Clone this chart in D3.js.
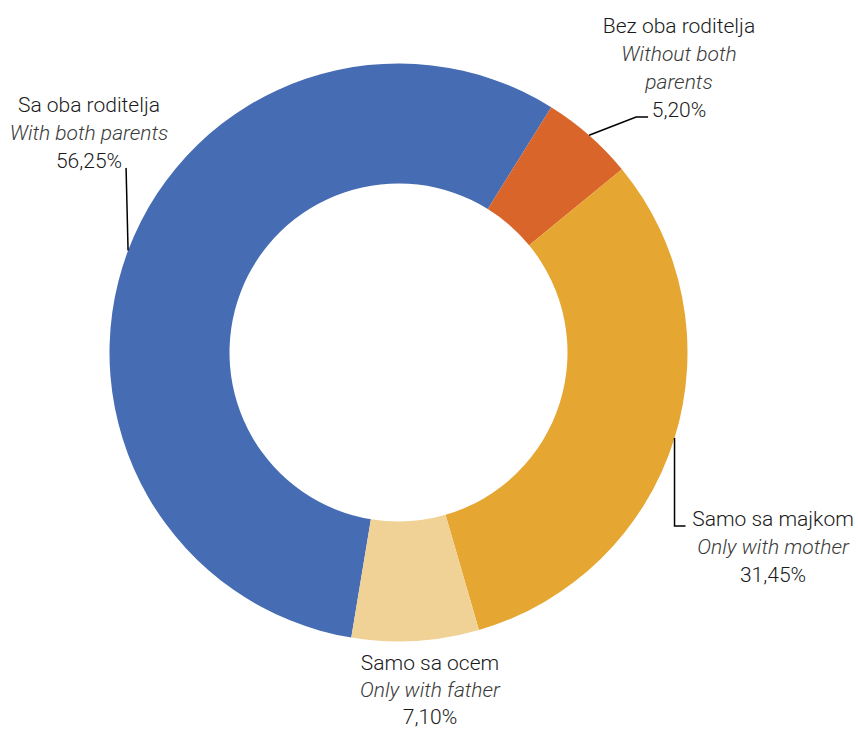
<!DOCTYPE html>
<html>
<head>
<meta charset="utf-8">
<script src="https://cdn.jsdelivr.net/npm/d3@7/dist/d3.min.js"></script>
<style>
  html, body { margin: 0; padding: 0; background: #ffffff; }
  svg { display: block; }
  text { font-family: Roboto, "Noto Sans", sans-serif; font-weight: 300; }
</style>
</head>
<body>
<svg id="chart" width="858" height="731"></svg>
<script>
// ---- Data ----
const categories = ["Sa oba roditelja", "Bez oba roditelja", "Samo sa majkom", "Samo sa ocem"];
const englishLabels = [["With both parents"], ["Without both", "parents"], ["Only with mother"], ["Only with father"]];
const values = [56.25, 5.20, 31.45, 7.10];
const colors = ["#466DB3", "#D9652B", "#E5A632", "#F0D196"];

// ---- Layout ----
const W = 858, H = 731;
const cx = 398.5, cy = 352.5;
const outerR = 289, innerR = 169;
const startDeg = -170.6;

// label anchor (center x, first baseline y, line height) and leader path shapes
const labelLayout = [
  { x: 89,  y: 112, lh: 28, leader: "sa" },
  { x: 679, y: 33,  lh: 28, leader: "bez" },
  { x: 773, y: 526, lh: 28, leader: "majkom" },
  { x: 430, y: 670, lh: 27, leader: null }
];

const svg = d3.select("#chart");
const g = svg.append("g").attr("transform", `translate(${cx},${cy})`);

const start = startDeg * Math.PI / 180;
const pie = d3.pie().sort(null).value(d => d).startAngle(start).endAngle(start + 2 * Math.PI);
const arcs = pie(values);

const arc = d3.arc().innerRadius(innerR).outerRadius(outerR);

g.selectAll("path.slice")
  .data(arcs)
  .join("path")
  .attr("class", "slice")
  .attr("d", arc)
  .attr("fill", (d, i) => colors[i])
  .attr("stroke", "none");

// leader lines
function outerPoint(d) {
  const a = (d.startAngle + d.endAngle) / 2;
  return [cx + outerR * Math.sin(a), cy - outerR * Math.cos(a)];
}
const fmt = v => v.toFixed(2).replace(".", ",") + "%";

arcs.forEach((d, i) => {
  const L = labelLayout[i];
  const lineH = L.lh;
  const p = outerPoint(d);
  let pts = null;
  if (L.leader === "sa") {
    pts = [p, [p[0] - 2, L.y + 2 * lineH]];
  } else if (L.leader === "bez") {
    const by = L.y + (englishLabels[i].length + 1) * lineH;
    pts = [p, [p[0] + 47, by], [p[0] + 59, by]];
  } else if (L.leader === "majkom") {
    pts = [p, [p[0], L.y], [p[0] + 11, L.y]];
  }
  if (pts) {
    svg.append("path")
      .attr("d", d3.line()(pts))
      .attr("fill", "none")
      .attr("stroke", "#000")
      .attr("stroke-width", 1.5);
  }

  const lines = [{ t: categories[i], it: false }]
    .concat(englishLabels[i].map(t => ({ t, it: true })))
    .concat([{ t: fmt(values[i]), it: false }]);

  const txt = svg.append("text")
    .attr("text-anchor", "middle")
    .attr("font-size", 21);
  lines.forEach((ln, k) => {
    txt.append("tspan")
      .attr("x", L.x)
      .attr("y", L.y + k * lineH)
      .attr("font-style", ln.it ? "italic" : "normal")
      .attr("fill", ln.it ? "#3a3a3a" : "#1a1a1a")
      .text(ln.t);
  });
});
</script>
</body>
</html>
